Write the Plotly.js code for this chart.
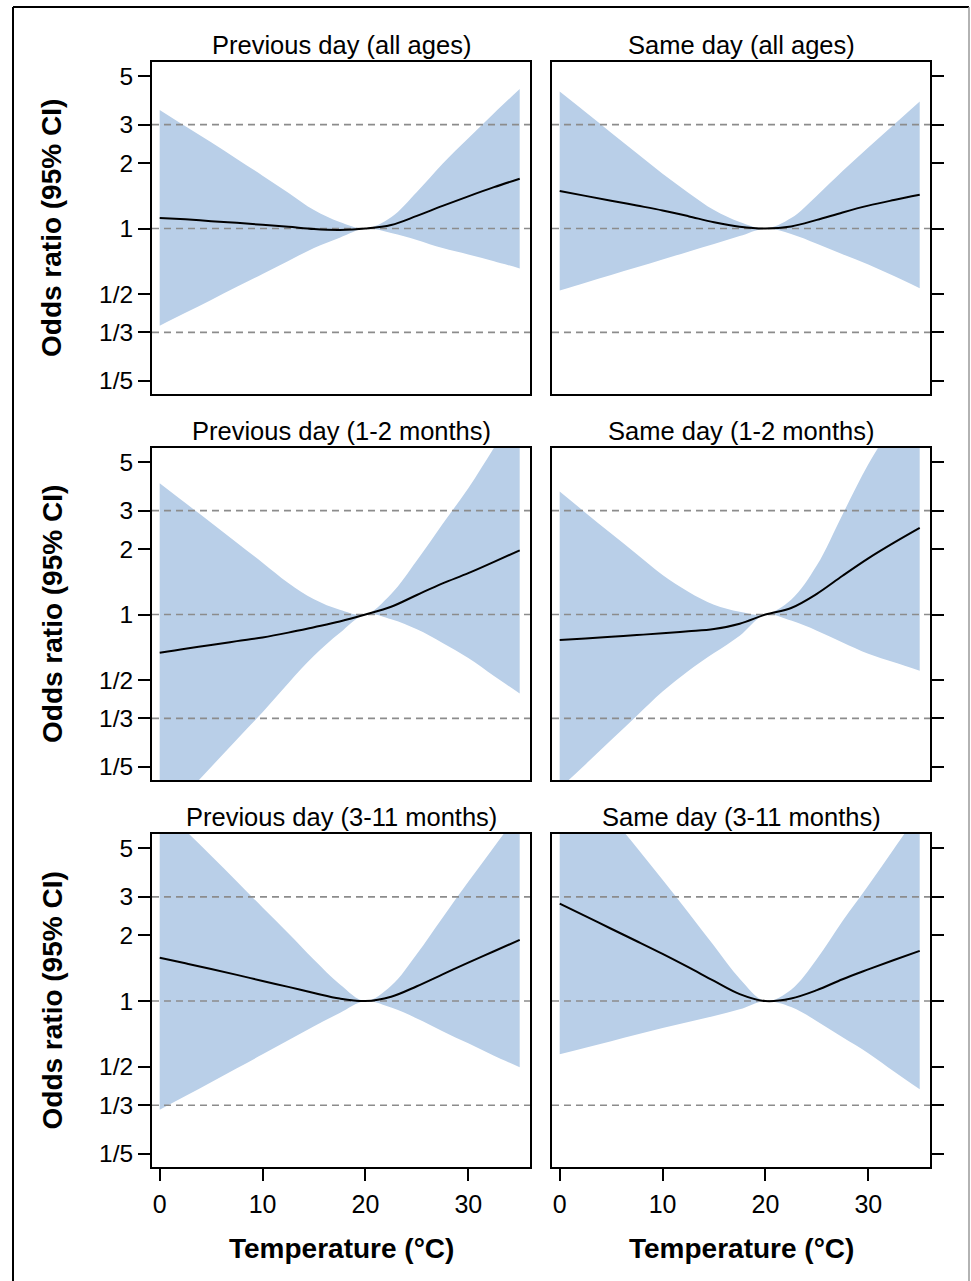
<!DOCTYPE html>
<html><head><meta charset="utf-8">
<script src="https://cdn.plot.ly/plotly-3.0.1.min.js"></script>
<style>html,body{margin:0;padding:0;background:#fff;} #chart{width:971px;height:1281px;}</style>
</head><body><div id="chart"></div>
<script>
// ---- data (odds ratios) ----
const temperature = [0, 2.5, 5, 7.5, 10, 12.5, 15, 17.5, 20, 22.5, 25, 27.5, 30, 32.5, 35];

const panelTitles = ['Previous day (all ages)', 'Same day (all ages)',
  'Previous day (1-2 months)', 'Same day (1-2 months)',
  'Previous day (3-11 months)', 'Same day (3-11 months)'];

const prevAllEst = [1.119, 1.102, 1.081, 1.062, 1.040, 1.019, 0.995, 0.986, 1, 1.038, 1.143, 1.271, 1.406, 1.549, 1.694];
const prevAllLow = [0.358, 0.410, 0.470, 0.540, 0.618, 0.710, 0.815, 0.908, 1, 0.955, 0.887, 0.813, 0.760, 0.708, 0.656];
const prevAllUp  = [3.508, 2.951, 2.489, 2.089, 1.750, 1.462, 1.216, 1.072, 1, 1.127, 1.472, 1.986, 2.600, 3.388, 4.375];

const sameAllEst = [1.486, 1.413, 1.343, 1.276, 1.211, 1.140, 1.069, 1.019, 1, 1.023, 1.096, 1.186, 1.274, 1.352, 1.429];
const sameAllLow = [0.519, 0.564, 0.612, 0.664, 0.721, 0.783, 0.849, 0.923, 1, 0.944, 0.851, 0.762, 0.684, 0.605, 0.532];
const sameAllUp  = [4.256, 3.428, 2.754, 2.218, 1.786, 1.462, 1.216, 1.072, 1, 1.117, 1.416, 1.837, 2.355, 3.006, 3.837];

const prev12Est = [0.668, 0.697, 0.724, 0.755, 0.785, 0.826, 0.875, 0.929, 1, 1.086, 1.230, 1.390, 1.549, 1.746, 1.972];
const prev12Low = [0.111, 0.149, 0.1995, 0.267, 0.356, 0.484, 0.646, 0.822, 1, 0.951, 0.855, 0.741, 0.631, 0.522, 0.434];
const prev12Up  = [4.009, 3.251, 2.642, 2.138, 1.730, 1.396, 1.175, 1.052, 1, 1.242, 1.770, 2.606, 3.802, 5.834, 8.974];

const same12Est = [0.764, 0.776, 0.791, 0.805, 0.820, 0.838, 0.859, 0.908, 1, 1.072, 1.245, 1.507, 1.811, 2.138, 2.500];
const same12Low = [0.159, 0.205, 0.265, 0.343, 0.443, 0.551, 0.665, 0.800, 1, 0.938, 0.843, 0.745, 0.661, 0.603, 0.552];
const same12Up  = [3.673, 2.938, 2.355, 1.892, 1.521, 1.274, 1.109, 1.030, 1, 1.169, 1.683, 2.884, 4.898, 7.586, 11.32];

const prev311Est = [1.578, 1.489, 1.403, 1.318, 1.236, 1.161, 1.089, 1.026, 1, 1.047, 1.169, 1.324, 1.500, 1.690, 1.905];
const prev311Low = [0.318, 0.367, 0.425, 0.492, 0.570, 0.661, 0.767, 0.881, 1, 0.933, 0.832, 0.728, 0.640, 0.562, 0.498];
const prev311Up  = [7.816, 6.039, 4.634, 3.532, 2.679, 2.042, 1.545, 1.194, 1, 1.175, 1.644, 2.410, 3.516, 5.082, 7.295];

const same311Est = [2.793, 2.449, 2.143, 1.879, 1.644, 1.429, 1.236, 1.076, 1, 1.028, 1.122, 1.259, 1.396, 1.542, 1.698];
const same311Low = [0.570, 0.611, 0.655, 0.702, 0.752, 0.802, 0.853, 0.916, 1, 0.938, 0.809, 0.682, 0.577, 0.476, 0.394];
const same311Up  = [13.68, 9.817, 7.015, 5.035, 3.597, 2.547, 1.791, 1.265, 1, 1.127, 1.556, 2.323, 3.381, 4.989, 7.328];

const refLines = [3, 1, 1/3];
const yTickVals = [5, 3, 2, 1, 0.5, 1/3, 0.2];
const yTickText = ['5', '3', '2', '1', '1/2', '1/3', '1/5'];
const xTickVals = [0, 10, 20, 30];
const xRange = [-0.75, 36.0];
const yRangeLog = [-0.76, 0.765];

// ---- build ----
const estSets = [prevAllEst, sameAllEst, prev12Est, same12Est, prev311Est, same311Est];
const lowSets = [prevAllLow, sameAllLow, prev12Low, same12Low, prev311Low, same311Low];
const upSets  = [prevAllUp, sameAllUp, prev12Up, same12Up, prev311Up, same311Up];

const W = 971, H = 1281;
const colPx = [[152, 530], [552, 930]];
const rowPx = [[62, 394], [448, 780], [834, 1167]];
const FONT = 'Liberation Sans, Arial, Helvetica, sans-serif';
const FILL = 'rgb(185,207,232)';

const data = [];
const layout = {
  width: W, height: H, margin: {l: 0, r: 0, t: 0, b: 0},
  paper_bgcolor: '#fff', plot_bgcolor: '#fff', showlegend: false,
  hovermode: false, annotations: [], shapes: []
};

for (let i = 0; i < 6; i++) {
  const r = Math.floor(i / 2), c = i % 2;
  const sfx = i === 0 ? '' : String(i + 1);
  const xa = 'x' + sfx, ya = 'y' + sfx;
  data.push({x: temperature, y: lowSets[i], xaxis: xa, yaxis: ya, type: 'scatter', mode: 'lines',
    line: {width: 0, color: FILL, shape: 'spline', smoothing: 1}});
  data.push({x: temperature, y: upSets[i], xaxis: xa, yaxis: ya, type: 'scatter', mode: 'lines',
    fill: 'tonexty', fillcolor: FILL, line: {width: 0, color: FILL, shape: 'spline', smoothing: 1}});
  refLines.forEach(v => data.push({x: xRange, y: [v, v], xaxis: xa, yaxis: ya, type: 'scatter', mode: 'lines',
    line: {color: '#8c8c8c', width: 1.6, dash: '7px,5px'}}));
  data.push({x: temperature, y: estSets[i], xaxis: xa, yaxis: ya, type: 'scatter', mode: 'lines',
    line: {color: '#000', width: 2, shape: 'spline', smoothing: 1}});

  const bottom = r === 2;
  layout['xaxis' + sfx] = {
    domain: [colPx[c][0] / W, colPx[c][1] / W], anchor: ya, range: xRange,
    showgrid: false, zeroline: false, showline: true, linecolor: '#000', linewidth: 2, mirror: true,
    ticks: bottom ? 'outside' : '', ticklen: 12, tickwidth: 2, tickcolor: '#000',
    tickvals: xTickVals, showticklabels: bottom, ticklabelstandoff: 2,
    tickfont: {family: FONT, size: 25, color: '#000'}, fixedrange: true
  };
  layout['yaxis' + sfx] = {
    domain: [1 - rowPx[r][1] / H, 1 - rowPx[r][0] / H], anchor: xa, type: 'log', range: yRangeLog,
    side: c === 0 ? 'left' : 'right',
    showgrid: false, zeroline: false, showline: true, linecolor: '#000', linewidth: 2, mirror: true,
    ticks: 'outside', ticklen: 12, tickwidth: 2, tickcolor: '#000',
    tickvals: yTickVals, ticktext: yTickText, showticklabels: c === 0, ticklabelstandoff: 0,
    tickfont: {family: FONT, size: 24.5, color: '#000'}, fixedrange: true
  };
  layout.annotations.push({
    text: panelTitles[i], xref: 'paper', yref: 'paper', showarrow: false,
    x: (colPx[c][0] + colPx[c][1]) / 2 / W, y: 1 - (rowPx[r][0] - 17) / H,
    xanchor: 'center', yanchor: 'middle', font: {family: FONT, size: 25.5, color: '#000'}
  });
  if (c === 0) {
    layout.annotations.push({
      text: '<b>Odds ratio (95% CI)</b>', xref: 'paper', yref: 'paper', showarrow: false,
      x: 52 / W, y: 1 - (rowPx[r][0] + rowPx[r][1]) / 2 / H, textangle: -90,
      xanchor: 'center', yanchor: 'middle', font: {family: FONT, size: 28, color: '#000'}
    });
  }
  if (bottom) {
    layout.annotations.push({
      text: '<b>Temperature (°C)</b>', xref: 'paper', yref: 'paper', showarrow: false,
      x: (colPx[c][0] + colPx[c][1]) / 2 / W, y: 1 - 1248 / H,
      xanchor: 'center', yanchor: 'middle', font: {family: FONT, size: 28, color: '#000'}
    });
  }
}

// outer frame
layout.shapes.push({type: 'line', xref: 'paper', yref: 'paper', x0: 13 / W, x1: 13 / W, y0: -0.01, y1: 1 - 7 / H, line: {color: '#000', width: 2}});
layout.shapes.push({type: 'line', xref: 'paper', yref: 'paper', x0: 13 / W, x1: 969 / W, y0: 1 - 7 / H, y1: 1 - 7 / H, line: {color: '#000', width: 2}});
layout.shapes.push({type: 'line', xref: 'paper', yref: 'paper', x0: 969 / W, x1: 969 / W, y0: -0.01, y1: 1 - 7 / H, line: {color: '#9a9a9a', width: 1.5}});

Plotly.newPlot('chart', data, layout, {displayModeBar: false, staticPlot: true});
</script>
</body></html>
